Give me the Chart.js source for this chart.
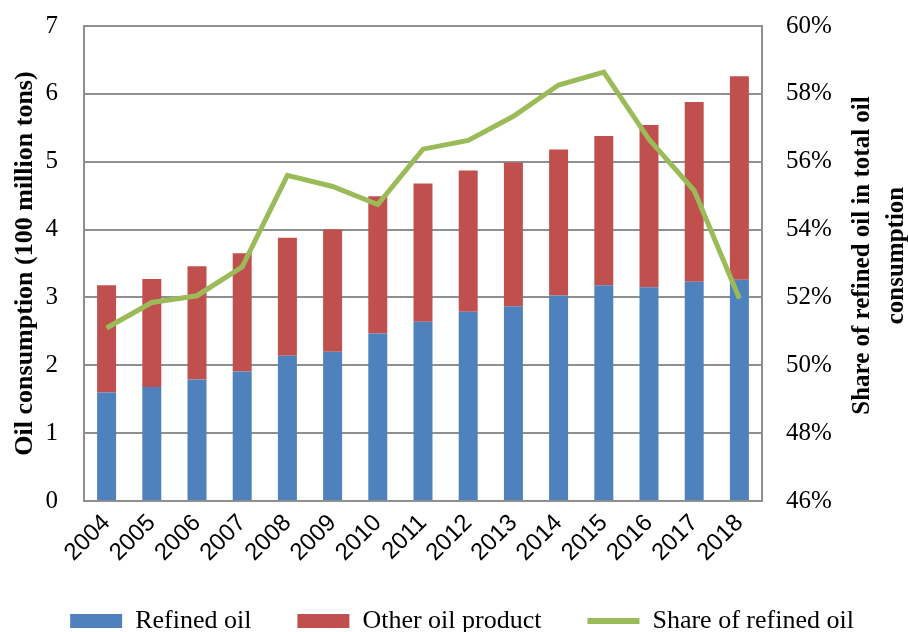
<!DOCTYPE html>
<html>
<head>
<meta charset="utf-8">
<script src="https://cdn.jsdelivr.net/npm/chart.js@4.4.1/dist/chart.umd.min.js"></script>
<style>
  html, body { margin: 0; padding: 0; background: #fff; }
  #wrap { width: 908px; height: 632px; }
</style>
</head>
<body>
<div id="wrap"><canvas id="c" width="908" height="632"></canvas></div>
<script>
// Oil consumption by year (100 million tons) and share of refined oil (%)
const years = ['2004','2005','2006','2007','2008','2009','2010','2011','2012','2013','2014','2015','2016','2017','2018'];
const refinedOil = [1.60,1.68,1.79,1.91,2.14,2.20,2.47,2.64,2.79,2.87,3.03,3.18,3.15,3.23,3.26];
const otherOilProduct = [1.58,1.59,1.67,1.74,1.74,1.80,2.02,2.04,2.08,2.12,2.15,2.20,2.39,2.65,3.00];
const refinedShare = [51.1,51.85,52.05,52.9,55.6,55.27,54.74,56.37,56.63,57.34,58.26,58.64,56.66,55.15,51.97];
const leftTicks = [0,1,2,3,4,5,6,7];
const rightTicks = [46,48,50,52,54,56,58,60];
const rightTitle = ['Share of refined oil in total oil', 'consumption'];

const serif = "'Liberation Serif', 'Times New Roman', serif";
const sans = "'Liberation Sans', Arial, sans-serif";
const gridGray = '#8f8f8f';

// Right axis title, written bottom-to-top beside the percentage ticks
const rightTitlePlugin = {
  id: 'rightTitle',
  afterDraw(chart) {
    const { ctx, chartArea } = chart;
    const s = chart.scales.y2;
    const cy = (chartArea.top + chartArea.bottom) / 2 - 8;
    ctx.save();
    ctx.fillStyle = '#000';
    ctx.font = "bold 25px " + serif;
    ctx.textAlign = 'center';
    ctx.textBaseline = 'middle';
    const xs = [s.right - 45, s.right - 11];
    rightTitle.forEach((line, i) => {
      ctx.save();
      ctx.translate(xs[i], cy);
      ctx.rotate(-Math.PI / 2);
      ctx.fillText(line, 0, 0);
      ctx.restore();
    });
    ctx.restore();
  }
};

// Keep the plot edges fixed: no extra room reserved for overhanging tick labels
function noOverhang(scale) {
  scale.paddingTop = 0;
  scale.paddingBottom = 0;
  scale.paddingLeft = 0;
  scale.paddingRight = 0;
}

new Chart(document.getElementById('c'), {
  data: {
    labels: years,
    datasets: [
      {
        type: 'line', label: 'Share of refined oil', data: refinedShare,
        yAxisID: 'y2', borderColor: '#9BBB59', backgroundColor: '#9BBB59',
        borderWidth: 5, pointRadius: 0, tension: 0, order: 0
      },
      {
        type: 'bar', label: 'Refined oil', data: refinedOil, yAxisID: 'y',
        backgroundColor: '#4F81BD', stack: 's', order: 1,
        categoryPercentage: 1, barPercentage: 0.42
      },
      {
        type: 'bar', label: 'Other oil product', data: otherOilProduct, yAxisID: 'y',
        backgroundColor: '#C0504D', stack: 's', order: 1,
        categoryPercentage: 1, barPercentage: 0.42
      }
    ]
  },
  plugins: [rightTitlePlugin],
  options: {
    responsive: false,
    animation: false,
    layout: { padding: { top: 26, left: 16, right: 0, bottom: -12 } },
    plugins: {
      tooltip: { enabled: false },
      legend: {
        position: 'bottom',
        labels: {
          font: { family: serif, size: 26 },
          color: '#000',
          usePointStyle: true,
          pointStyleWidth: 52,
          boxHeight: 14,
          padding: 46,
          generateLabels(chart) {
            const order = [1, 2, 0];
            return order.map(i => {
              const ds = chart.data.datasets[i];
              const isLine = ds.type === 'line';
              return {
                text: ds.label,
                fillStyle: ds.backgroundColor,
                strokeStyle: isLine ? ds.borderColor : ds.backgroundColor,
                lineWidth: isLine ? 6 : 0,
                pointStyle: isLine ? 'line' : 'rect',
                hidden: false,
                datasetIndex: i,
                fontColor: '#000'
              };
            });
          }
        }
      }
    },
    scales: {
      x: {
        stacked: true,
        grid: { display: false },
        border: { display: false },
        ticks: {
          font: { family: sans, size: 24 }, color: '#000',
          minRotation: 45, maxRotation: 45, padding: 0
        },
        afterFit(scale) { scale.height = 61; noOverhang(scale); }
      },
      y: {
        position: 'left', stacked: true, min: 0, max: 7,
        afterBuildTicks(scale) { scale.ticks = leftTicks.map(v => ({ value: v })); },
        ticks: { font: { family: serif, size: 25 }, color: '#000', padding: 26 },
        grid: { color: gridGray, lineWidth: 2, drawTicks: false },
        border: { color: gridGray, width: 2 },
        title: {
          display: true, text: 'Oil consumption (100 million tons)',
          font: { family: serif, size: 26, weight: 'bold' }, color: '#000',
          padding: { top: -6, bottom: 0 }
        },
        afterFit(scale) { scale.width = 68; noOverhang(scale); }
      },
      y2: {
        position: 'right', min: 46, max: 60,
        afterBuildTicks(scale) { scale.ticks = rightTicks.map(v => ({ value: v })); },
        ticks: {
          font: { family: serif, size: 25 }, color: '#000', padding: 24,
          callback: v => v + '%'
        },
        grid: { display: false, drawTicks: false },
        border: { color: gridGray, width: 2 },
        afterFit(scale) { scale.width = 146; noOverhang(scale); }
      }
    }
  }
});
</script>
</body>
</html>
